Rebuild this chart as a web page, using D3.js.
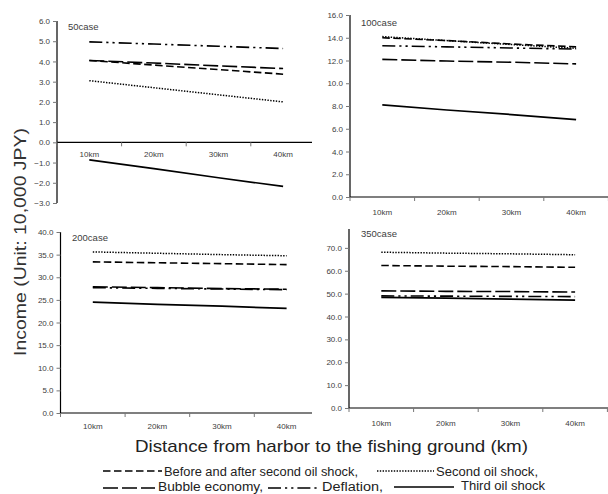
<!DOCTYPE html>
<html><head><meta charset="utf-8">
<script src="https://cdn.jsdelivr.net/npm/d3@7"></script>
<style>html,body{margin:0;padding:0;background:#fff}svg{display:block}</style>
</head><body>
<svg id="c" width="608" height="494"></svg>
<script>
const categories = ["10km","20km","30km","40km"];
const seriesNames = ["Before and after second oil shock,","Second oil shock,","Bubble economy,","Deflation,","Third oil shock"];

const case50_before    = [4.05, 3.82, 3.60, 3.37];
const case50_second    = [3.05, 2.70, 2.35, 2.00];
const case50_bubble    = [4.05, 3.92, 3.78, 3.65];
const case50_deflation = [4.97, 4.86, 4.75, 4.64];
const case50_third     = [-0.87, -1.30, -1.75, -2.18];

const case100_before    = [14.00, 13.75, 13.45, 13.20];
const case100_second    = [14.10, 13.75, 13.40, 13.07];
const case100_bubble    = [12.10, 11.95, 11.85, 11.70];
const case100_deflation = [13.30, 13.20, 13.10, 13.00];
const case100_third     = [8.10, 7.65, 7.25, 6.80];

const case200_before    = [33.4, 33.2, 33.0, 32.8];
const case200_second    = [35.6, 35.3, 35.0, 34.75];
const case200_bubble    = [27.9, 27.7, 27.5, 27.35];
const case200_deflation = [27.7, 27.55, 27.4, 27.25];
const case200_third     = [24.5, 24.0, 23.6, 23.1];

const case350_before    = [62.3, 62.0, 61.8, 61.5];
const case350_second    = [68.1, 67.7, 67.4, 67.0];
const case350_bubble    = [51.2, 51.0, 50.9, 50.7];
const case350_deflation = [49.0, 48.9, 48.8, 48.7];
const case350_third     = [48.4, 48.0, 47.6, 47.2];

const ticks50  = [-3,-2,-1,0,1,2,3,4,5,6];
const ticks100 = [0,2,4,6,8,10,12,14,16];
const ticks200 = [0,5,10,15,20,25,30,35,40];
const ticks350 = [0,10,20,30,40,50,60,70];

const panelTitles = ["50case","100case","200case","350case"];
const yAxisTitle = "Income (Unit: 10,000 JPY)";
const xAxisTitle = "Distance from harbor to the fishing ground (km)";

const styles = [
  {dash:"7.5,3.5", w:1.6},
  {dash:"1.4,1.4", w:1.5},
  {dash:"15,4", w:1.6},
  {dash:"13,4,2.2,4,2.2,4", w:1.6},
  {dash:null, w:1.7}
];

const svg = d3.select("#c");
const FONT = "'Liberation Sans', Arial, sans-serif";
const TXT = "#404040";

function panel(cfg){
  const g = svg.append("g");
  const x = d3.scaleBand().domain(categories).range([cfg.x0, cfg.x0 + 4*64.6]).padding(0);
  const y = d3.scaleLinear().domain(cfg.domain).range(cfg.yRange);
  const ya = d3.axisLeft(y).tickValues(cfg.ticks).tickSize(4).tickPadding(3).tickFormat(d3.format(".1f"));
  const yg = g.append("g").attr("transform",`translate(${cfg.x0},0)`).call(ya);
  yg.select(".domain").attr("stroke","#000").attr("stroke-width",1.2).attr("d",`M-0,${y(cfg.domain[1])}V${y(cfg.domain[0])}`);
  yg.selectAll(".tick line").attr("stroke","#777");
  yg.selectAll("text").attr("font-family",FONT).attr("font-size",8).attr("fill",TXT);
  const y0 = y(0);
  g.append("line").attr("x1",cfg.x0).attr("x2",cfg.xEnd).attr("y1",y0).attr("y2",y0).attr("stroke","#000").attr("stroke-width",1.2);
  const bounds = categories.map(c=>x(c)).concat([x(categories[3])+x.bandwidth()]).filter(v=>v<=cfg.xEnd+0.5);
  g.selectAll(".xt").data(bounds).join("line").attr("x1",d=>d).attr("x2",d=>d).attr("y1",y0).attr("y2",y0+4).attr("stroke","#777");
  const xa = d3.axisBottom(x).tickSize(0).tickPadding(cfg.labPad);
  const xg = g.append("g").attr("transform",`translate(0,${y0})`).call(xa);
  xg.select(".domain").remove();
  xg.selectAll("text").attr("font-family",FONT).attr("font-size",8).attr("fill",TXT);
  g.append("text").attr("x",cfg.tx).attr("y",cfg.ty).text(cfg.title).attr("font-family",FONT).attr("font-size",9.5).attr("fill",TXT);
  const line = d3.line().x((d,i)=>x(categories[i])+x.bandwidth()/2).y(d=>y(d));
  cfg.series.forEach((s,i)=>{
    g.append("path").attr("d",line(s)).attr("fill","none").attr("stroke","#000")
     .attr("stroke-width",styles[i].w).attr("stroke-dasharray",styles[i].dash);
  });
  return g;
}

panel({x0:349, xEnd:608, domain:[0,80], yRange:[408,225], ticks:ticks350, labPad:12, tx:361, ty:237, title:panelTitles[3],
  series:[case350_before,case350_second,case350_bubble,case350_deflation,case350_third]});
svg.append("rect").attr("x",304).attr("y",0).attr("width",304).attr("height",229).attr("fill","#fff");
panel({x0:350, xEnd:608, domain:[0,16], yRange:[197,15], ticks:ticks100, labPad:12, tx:361, ty:26, title:panelTitles[1],
  series:[case100_before,case100_second,case100_bubble,case100_deflation,case100_third]});
panel({x0:57, xEnd:312, domain:[-3,6], yRange:[203,21], ticks:ticks50, labPad:9, tx:68, ty:30, title:panelTitles[0],
  series:[case50_before,case50_second,case50_bubble,case50_deflation,case50_third]});
panel({x0:60.5, xEnd:312, domain:[0,40], yRange:[413,232], ticks:ticks200, labPad:10, tx:72, ty:241, title:panelTitles[2],
  series:[case200_before,case200_second,case200_bubble,case200_deflation,case200_third]});

svg.append("text").attr("transform","translate(26,242) rotate(-90)").attr("text-anchor","middle")
  .attr("font-family",FONT).attr("font-size",16).attr("fill","#333").attr("textLength",228).attr("lengthAdjust","spacingAndGlyphs").text(yAxisTitle);
svg.append("text").attr("x",135).attr("y",452).attr("font-family",FONT).attr("font-size",17).attr("fill","#222")
  .attr("textLength",393).attr("lengthAdjust","spacingAndGlyphs").text(xAxisTitle);

const legendItems = [
  {s:0, x1:103, x2:162, tx:164, tl:194, y:471, ty:475.5},
  {s:1, x1:377, x2:434, tx:436, tl:102, y:471, ty:475.5},
  {s:2, x1:103, x2:155, tx:158, tl:105, y:488, ty:491},
  {s:3, x1:268, x2:320, tx:322, tl:61, y:488, ty:491},
  {s:4, x1:394, x2:454, tx:461, tl:84, y:487, ty:489.5}
];
const lg = svg.append("g");
legendItems.forEach(it=>{
  lg.append("line").attr("x1",it.x1).attr("x2",it.x2).attr("y1",it.y).attr("y2",it.y).attr("stroke","#000")
    .attr("stroke-width",styles[it.s].w).attr("stroke-dasharray",styles[it.s].dash);
  lg.append("text").attr("x",it.tx).attr("y",it.ty).attr("font-family",FONT).attr("font-size",12).attr("fill","#222")
    .attr("textLength",it.tl).attr("lengthAdjust","spacingAndGlyphs").text(seriesNames[it.s]);
});
</script>
</body></html>
